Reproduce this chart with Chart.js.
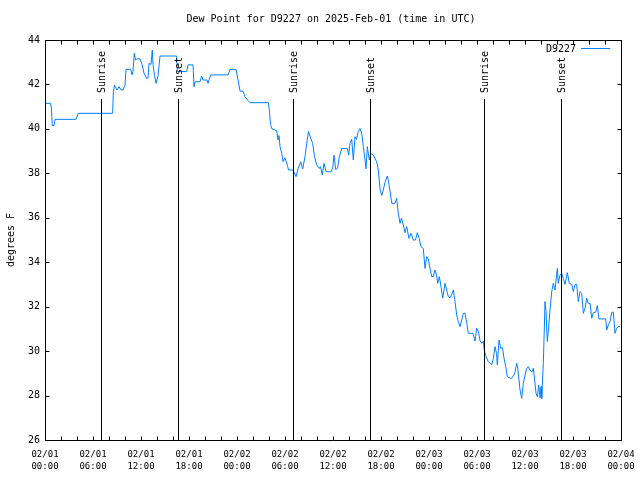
<!DOCTYPE html>
<html>
<head>
<meta charset="utf-8">
<script src="https://cdn.jsdelivr.net/npm/chart.js@4.4.1/dist/chart.umd.min.js"></script>
<style>
html,body{margin:0;padding:0;background:#fff;}
#wrap{width:640px;height:480px;}
</style>
</head>
<body>
<div id="wrap"><canvas id="c" width="640" height="480"></canvas></div>
<script>
// ---- data (hours since 2025-02-01 00:00 UTC, dew point in deg F) ----
const hours = [0,0.69,0.81,0.91,1.13,1.25,3.88,4.16,8.46,8.54,8.69,9.0,9.25,9.5,9.75,10.0,10.13,10.71,10.88,11.0,11.16,11.31,11.5,11.88,12.13,12.38,12.71,12.88,13.0,13.25,13.41,13.5,13.69,13.88,14.13,14.38,16.46,16.54,17.71,17.88,18.5,18.63,18.75,19.38,19.59,19.75,20.25,20.38,20.71,22.88,23.13,23.88,24.13,24.38,24.75,25.0,25.38,25.63,27.91,28.04,28.19,28.38,28.96,29.13,29.25,29.38,29.59,29.75,30.0,30.34,30.44,31.0,31.38,31.63,31.96,32.21,32.5,32.71,32.94,33.21,33.46,33.66,33.96,34.29,34.44,34.66,34.88,35.13,35.75,35.96,36.13,36.34,36.56,36.79,37.09,37.79,37.96,38.13,38.34,38.54,38.75,38.94,39.16,39.38,39.59,39.79,40.0,40.13,40.29,40.54,40.71,41.04,41.25,41.46,41.66,41.88,42.09,42.29,42.5,42.79,43.0,43.13,43.34,43.75,43.96,44.16,44.38,44.56,44.79,45.0,45.21,45.5,45.75,46.04,46.31,46.54,46.79,47.0,47.29,47.5,47.71,47.91,48.13,48.34,48.54,48.75,48.94,49.09,49.29,49.5,49.71,50.0,50.21,50.41,50.63,50.84,51.04,51.25,51.46,51.66,51.88,52.09,52.29,52.5,52.71,52.91,53.5,53.75,53.96,54.16,54.38,54.59,54.79,54.91,55.13,55.41,55.63,55.84,56.04,56.25,56.44,56.54,56.75,56.96,57.19,57.38,57.59,57.79,58.13,58.34,58.54,58.75,58.96,59.09,59.25,59.38,59.59,59.79,60.0,60.21,60.41,60.63,60.84,61.04,61.21,61.38,61.54,61.71,61.88,62.0,62.09,62.29,62.41,62.5,62.63,62.79,62.91,63.13,63.34,63.54,63.75,63.88,64.04,64.16,64.38,64.59,64.79,65.0,65.29,65.54,65.84,66.04,66.25,66.46,66.66,66.88,67.09,67.29,67.5,67.71,67.91,68.13,68.34,68.54,68.84,69.04,69.25,70.09,70.21,70.41,70.63,70.84,71.04,71.25,71.46,71.63,71.88];
const dewPoint = [41.15,41.15,40.9,40.15,40.15,40.43,40.43,40.7,40.7,41.67,41.97,41.75,41.9,41.75,41.75,41.97,42.68,42.68,42.43,42.6,43.4,43.1,43.15,43.15,42.9,42.5,42.27,42.3,42.95,42.9,43.55,42.9,42.4,42.05,42.4,43.28,43.28,42.58,42.58,42.88,42.88,41.9,42.12,42.12,42.38,42.2,42.2,42.05,42.43,42.43,42.68,42.68,42.2,41.7,41.7,41.45,41.27,41.18,41.18,40.85,40.2,40.0,39.92,39.5,39.7,39.2,38.9,38.52,38.7,38.3,38.15,38.15,37.85,38.2,38.52,38.2,38.75,39.35,39.88,39.58,39.35,38.82,38.38,38.22,38.3,37.93,38.45,38.07,38.07,38.22,38.82,38.17,38.22,38.75,39.12,39.12,38.82,39.35,39.53,38.6,39.65,39.53,39.88,40.02,39.8,39.2,38.6,38.2,39.2,38.6,38.9,38.82,38.67,38.52,38.15,37.3,37.0,37.25,37.6,37.88,37.5,37.2,36.65,36.65,36.88,36.2,35.75,35.98,35.68,35.33,35.6,35.07,35.3,35.0,35.0,35.33,35.05,34.7,34.62,33.72,34.25,34.15,33.72,33.35,33.35,33.65,33.42,33.05,33.35,32.9,32.38,33.05,32.75,32.45,32.4,32.55,32.75,32.23,31.63,31.33,31.1,31.4,31.7,31.7,31.3,30.8,30.8,30.45,31.03,30.9,30.47,30.35,30.45,30.05,29.75,29.53,29.45,29.38,29.68,30.2,29.9,29.38,30.5,30.13,30.15,29.68,29.3,28.85,28.78,28.78,28.88,29.05,29.45,29.23,28.7,28.25,27.87,28.55,28.92,29.23,29.3,29.15,29.05,29.23,28.7,28.1,27.95,28.47,27.9,28.4,27.87,29.45,30.95,32.23,31.78,30.43,30.88,31.85,32.68,33.05,32.75,33.2,33.72,33.05,33.43,33.5,33.27,33.0,33.53,33.05,33.0,32.68,33.0,33.0,32.23,32.68,32.6,31.7,31.93,32.38,32.15,32.15,31.48,31.73,31.75,32.05,31.45,31.45,30.95,31.18,31.33,31.75,31.75,30.8,31.03,31.1,31.1];

const xTickHours = [0,6,12,18,24,30,36,42,48,54,60,66,72];
const xTickDates = ['02/01','02/01','02/01','02/01','02/02','02/02','02/02','02/02','02/03','02/03','02/03','02/03','02/04'];
const xTickTimes = ['00:00','06:00','12:00','18:00','00:00','06:00','12:00','18:00','00:00','06:00','12:00','18:00','00:00'];
const yTicks = [26,28,30,32,34,36,38,40,42,44];

const eventHours = [7.0,16.67,31.04,40.67,54.92,64.54];
const eventLabels = ['Sunrise','Sunset','Sunrise','Sunset','Sunrise','Sunset'];

const titleText = 'Dew Point for D9227 on 2025-Feb-01 (time in UTC)';
const yTitle = 'degrees F';
const seriesName = 'D9227';
const lineColor = 'rgb(0,128,255)';

const points = hours.map((h,i)=>({x:h,y:dewPoint[i]}));
const MONO = '"DejaVu Sans Mono"';

const decor = {
  id:'decor',
  afterDatasetsDraw(chart){
    const ctx = chart.ctx, a = chart.chartArea;
    const xs = chart.scales.x, ys = chart.scales.y;
    ctx.save();
    ctx.strokeStyle = '#000';
    ctx.lineWidth = 1;
    // event lines
    eventHours.forEach((h,i)=>{
      const px = Math.round(xs.getPixelForValue(h)) + 0.5;
      ctx.beginPath();
      ctx.moveTo(px, 99);
      ctx.lineTo(px, a.bottom);
      ctx.stroke();
      ctx.save();
      ctx.translate(px + 0.5, 93);
      ctx.rotate(-Math.PI/2);
      ctx.fillStyle = '#000';
      ctx.font = '10px ' + MONO;
      ctx.textAlign = 'left';
      ctx.textBaseline = 'middle';
      ctx.fillText(eventLabels[i], 0, 0);
      ctx.restore();
    });
    // frame
    const L = Math.round(a.left)+0.5, R = Math.round(a.right)+0.5, T = Math.round(a.top)+0.5, B = Math.round(a.bottom)+0.5;
    ctx.beginPath();
    ctx.rect(L, T, R-L, B-T);
    ctx.stroke();
    // ticks
    ctx.beginPath();
    for (let h=0; h<=72; h+=2){
      const px = Math.round(xs.getPixelForValue(h))+0.5;
      ctx.moveTo(px,B); ctx.lineTo(px,B-4);
      ctx.moveTo(px,T); ctx.lineTo(px,T+4);
    }
    yTicks.forEach(v=>{
      const py = Math.round(ys.getPixelForValue(v))+0.5;
      ctx.moveTo(L,py); ctx.lineTo(L+4,py);
      ctx.moveTo(R,py); ctx.lineTo(R-4,py);
    });
    ctx.stroke();
    // title
    ctx.fillStyle = '#000';
    ctx.font = '10px ' + MONO;
    ctx.textAlign = 'center';
    ctx.textBaseline = 'middle';
    ctx.fillText(titleText, 331, 19);
    // legend
    ctx.textAlign = 'right';
    ctx.fillText(seriesName, 576, 49);
    ctx.strokeStyle = lineColor;
    ctx.beginPath();
    ctx.moveTo(581, 48.5); ctx.lineTo(610, 48.5);
    ctx.stroke();
    // y title
    ctx.save();
    ctx.translate(11, 240);
    ctx.rotate(-Math.PI/2);
    ctx.font = '10px ' + MONO;
    ctx.textAlign = 'center';
    ctx.textBaseline = 'middle';
    ctx.fillText(yTitle, 0, 0);
    ctx.restore();
    ctx.restore();
  }
};

new Chart(document.getElementById('c'), {
  type:'line',
  data:{datasets:[{label:seriesName,data:points,borderColor:lineColor,borderWidth:1,pointRadius:0,tension:0,fill:false}]},
  options:{
    responsive:false,
    animation:false,
    devicePixelRatio:1,
    layout:{padding:{top:40,right:19,left:0,bottom:0}},
    plugins:{legend:{display:false},title:{display:false},tooltip:{enabled:false}},
    scales:{
      x:{type:'linear',min:0,max:72,
        afterFit(s){s.height=40;s.paddingLeft=0;s.paddingRight=0;},
        grid:{display:false,drawTicks:false},
        border:{display:false},
        ticks:{stepSize:2,autoSkip:false,maxRotation:0,minRotation:0,padding:9,color:'#000',
          font:{family:MONO,size:9,lineHeight:'12px'},
          callback(v){const i=xTickHours.indexOf(v);return i<0?'':[xTickDates[i],xTickTimes[i]];}}
      },
      y:{type:'linear',min:26,max:44,
        afterFit(s){s.width=45;s.paddingTop=0;s.paddingBottom=0;},
        afterBuildTicks(s){s.ticks=yTicks.map(v=>({value:v}));},
        grid:{display:false,drawTicks:false},
        border:{display:false},
        ticks:{padding:5,color:'#000',font:{family:MONO,size:10}}
      }
    }
  },
  plugins:[decor]
});
</script>
</body>
</html>
